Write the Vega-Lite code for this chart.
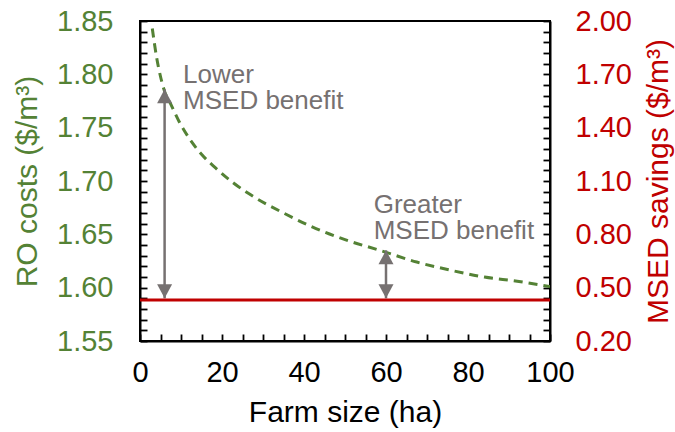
{
  "$schema": "https://vega.github.io/schema/vega-lite/v6.json",
  "autosize": "none",
  "width": 410,
  "height": 320,
  "padding": {"left": 140, "top": 21, "right": 125, "bottom": 91},
  "background": "white",
  "config": {
    "font": "Liberation Sans",
    "view": {"stroke": "black", "strokeWidth": 2},
    "axis": {
      "grid": false,
      "domainColor": "black",
      "domainWidth": 2,
      "tickColor": "black",
      "tickWidth": 1.8,
      "tickSize": -7,
      "labelFont": "Liberation Sans",
      "labelFontSize": 29,
      "labelOverlap": false,
      "labelFlush": false,
      "titleFont": "Liberation Sans",
      "titleFontSize": 30,
      "titleFontWeight": "normal"
    }
  },
  "datasets": {
    "ro": [
      {"farm": 3, "cost": 1.843},
      {"farm": 4, "cost": 1.817},
      {"farm": 5, "cost": 1.798},
      {"farm": 6, "cost": 1.784},
      {"farm": 7.5, "cost": 1.772},
      {"farm": 9.5, "cost": 1.756},
      {"farm": 12, "cost": 1.740},
      {"farm": 15, "cost": 1.725},
      {"farm": 18.5, "cost": 1.712},
      {"farm": 22.5, "cost": 1.699},
      {"farm": 27, "cost": 1.687},
      {"farm": 35, "cost": 1.670},
      {"farm": 42, "cost": 1.657},
      {"farm": 50, "cost": 1.645},
      {"farm": 58.5, "cost": 1.635},
      {"farm": 67.5, "cost": 1.624},
      {"farm": 75, "cost": 1.617},
      {"farm": 84, "cost": 1.610},
      {"farm": 92, "cost": 1.606},
      {"farm": 100, "cost": 1.601}
    ],
    "msed": [
      {"farm": 0, "savings": 0.43},
      {"farm": 100, "savings": 0.43}
    ],
    "gaps": [
      {"farm": 6, "low": 1.590, "high": 1.786},
      {"farm": 60, "low": 1.590, "high": 1.635}
    ],
    "notes": [
      {"farm": 10.5, "cost": 1.7916, "note": "Lower\nMSED benefit"},
      {"farm": 57, "cost": 1.6697, "note": "Greater\nMSED benefit"}
    ]
  },
  "layer": [
    {
      "layer": [
        {
          "data": {"name": "ro"},
          "mark": {"type": "line", "color": "#548235", "strokeWidth": 3, "strokeDash": [9, 6], "interpolate": "monotone", "clip": true},
          "encoding": {
            "x": {
              "field": "farm", "type": "quantitative",
              "scale": {"domain": [0, 100], "nice": false},
              "axis": {
                "title": "Farm size (ha)",
                "titlePadding": 10,
                "labelPadding": 24,
                "labelColor": "black",
                "tickCount": 21,
                "values": [0, 5, 10, 15, 20, 25, 30, 35, 40, 45, 50, 55, 60, 65, 70, 75, 80, 85, 90, 95, 100],
                "labelExpr": "datum.value % 20 == 0 ? datum.label : ''"
              }
            },
            "y": {
              "field": "cost", "type": "quantitative",
              "scale": {"domain": [1.55, 1.85], "nice": false, "zero": false},
              "axis": {
                "title": "RO costs ($/m³)",
                "titleColor": "#548235",
                "labelColor": "#548235",
                "labelPadding": 34,
                "titlePadding": 14,
                "tickCount": 31,
                "values": [1.55, 1.56, 1.57, 1.58, 1.59, 1.6, 1.61, 1.62, 1.63, 1.64, 1.65, 1.66, 1.67, 1.68, 1.69, 1.7, 1.71, 1.72, 1.73, 1.74, 1.75, 1.76, 1.77, 1.78, 1.79, 1.8, 1.81, 1.82, 1.83, 1.84, 1.85],
                "labelExpr": "round(datum.value * 100) % 5 == 0 ? format(datum.value, '.2f') : ''"
              }
            }
          }
        },
        {
          "data": {"name": "gaps"},
          "mark": {"type": "rule", "color": "#767171", "strokeWidth": 2.5},
          "encoding": {
            "x": {"field": "farm", "type": "quantitative"},
            "y": {"field": "low", "type": "quantitative"},
            "y2": {"field": "high"}
          }
        },
        {
          "data": {"name": "gaps"},
          "mark": {"type": "point", "shape": "M0,0L-1,1.87L1,1.87Z", "size": 225, "filled": true, "color": "#767171", "opacity": 1},
          "encoding": {
            "x": {"field": "farm", "type": "quantitative"},
            "y": {"field": "high", "type": "quantitative"}
          }
        },
        {
          "data": {"name": "gaps"},
          "mark": {"type": "point", "shape": "M0,0L-1,-1.87L1,-1.87Z", "size": 225, "filled": true, "color": "#767171", "opacity": 1},
          "encoding": {
            "x": {"field": "farm", "type": "quantitative"},
            "y": {"field": "low", "type": "quantitative"}
          }
        },
        {
          "data": {"name": "notes"},
          "mark": {"type": "text", "align": "left", "baseline": "alphabetic", "fontSize": 26, "lineHeight": 26, "color": "#767171", "lineBreak": "\n"},
          "encoding": {
            "x": {"field": "farm", "type": "quantitative"},
            "y": {"field": "cost", "type": "quantitative"},
            "text": {"field": "note"}
          }
        }
      ]
    },
    {
      "data": {"name": "msed"},
      "mark": {"type": "line", "color": "#C00000", "strokeWidth": 3},
      "encoding": {
        "x": {"field": "farm", "type": "quantitative"},
        "y": {
          "field": "savings", "type": "quantitative",
          "scale": {"domain": [0.2, 2.0], "nice": false, "zero": false},
          "axis": {
            "orient": "right",
            "title": "MSED savings ($/m³)",
            "titleColor": "#C00000",
            "labelColor": "#C00000",
            "titleAngle": -90,
            "titleBaseline": "top",
            "labelPadding": 32,
            "titlePadding": 12,
            "tickCount": 31,
            "values": [0.2, 0.26, 0.32, 0.38, 0.44, 0.5, 0.56, 0.62, 0.68, 0.74, 0.8, 0.86, 0.92, 0.98, 1.04, 1.1, 1.16, 1.22, 1.28, 1.34, 1.4, 1.46, 1.52, 1.58, 1.64, 1.7, 1.76, 1.82, 1.88, 1.94, 2.0],
            "labelExpr": "(round(datum.value * 100) - 20) % 30 == 0 ? format(datum.value, '.2f') : ''"
          }
        }
      }
    }
  ],
  "resolve": {"scale": {"y": "independent"}}
}
